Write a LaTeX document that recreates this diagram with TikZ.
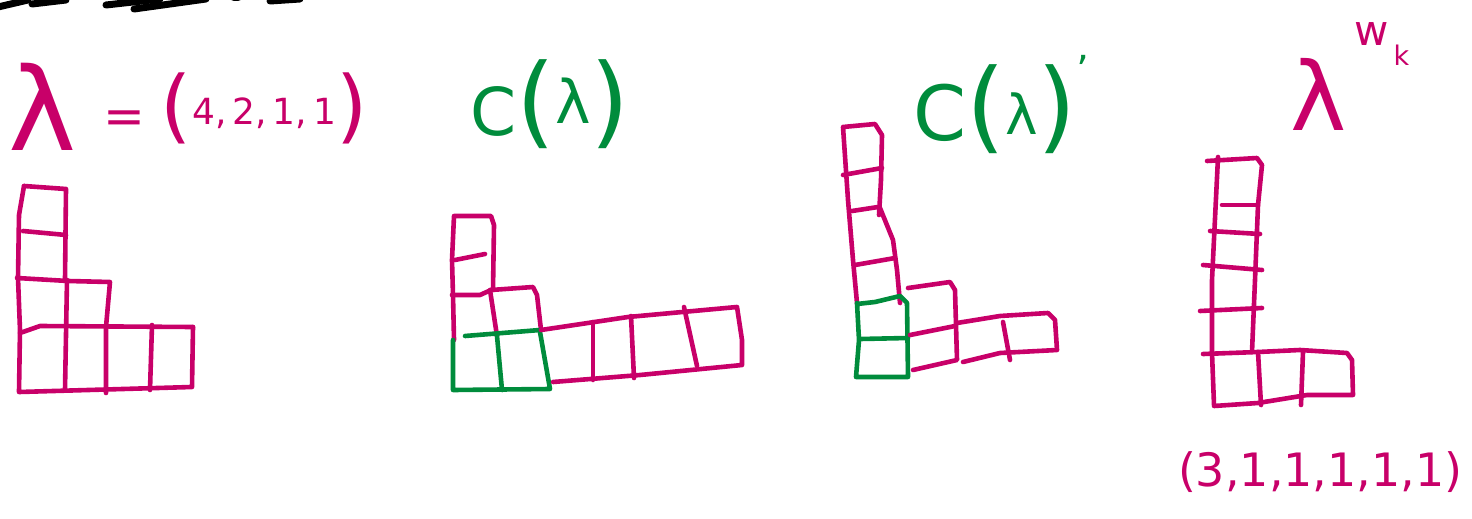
\documentclass[tikz,border=0pt]{standalone}
\usepackage{fontspec}
\setmainfont{DejaVu Sans}
\definecolor{mag}{RGB}{200,0,105}
\definecolor{grn}{RGB}{0,140,60}
\tikzset{
  pk/.style={draw=mag,line width=4.6pt,line cap=round,line join=round},
  gr/.style={draw=grn,line width=4.6pt,line cap=round,line join=round},
  ink/.style={draw=black,line width=7pt,line cap=round},
  lbl/.style={inner sep=0pt,outer sep=0pt,anchor=base west}
}
\newcommand{\fs}[1]{\fontsize{#1}{#1}\selectfont}
\begin{document}
\begin{tikzpicture}[x=1pt,y=-1pt]
\useasboundingbox (0,0) rectangle (1472,519);
% black scribbles at top edge
\draw[ink] (-2,7) -- (28,0);
\draw[ink] (32,4) -- (66,0);
\draw[ink] (106,5) -- (160,-1);
\draw[ink] (134,9) -- (206,-1);
\draw[ink] (234,-2) -- (238,-2);
\draw[ink] (270,1) -- (300,-1);

% ---------- labels ----------
\node[lbl,text=mag] (lab1) at (9,150)
  {\fs{115}λ\hspace{26pt}\raisebox{17pt}{\fs{50}=\hspace{16pt}{\fs{80}(}\raisebox{9pt}{\fs{36}4,\,2,\,1,\,1}{\fs{80})}}};
\node[lbl,text=grn] (lab2) at (470,135)
  {\fs{66}C{\fs{100}(}\raisebox{12pt}{\fs{60}λ}{\fs{100})}};
\node[lbl,text=grn] (lab3) at (913,140)
  {\fs{76}C{\fs{100}(}\raisebox{6pt}{\fs{55}λ}{\fs{100})}\raisebox{56pt}{\fs{40}'}};
\node[lbl,text=mag] (lab4) at (1290,130)
  {\fs{95}λ\hspace{8pt}\raisebox{85pt}{\fs{42}w}\hspace{5pt}\raisebox{65pt}{\fs{27}k}};
\node[lbl,text=mag] (lab5) at (1178,486)
  {\fs{46}(3,1,1,1,1,1)};

% ---------- diagram 1 : lambda = (4,2,1,1) ----------
\draw[pk] (24,186) -- (66,189) -- (65,280);
\draw[pk] (24,186) -- (19,215) -- (18,278) -- (20,330) -- (19,392) -- (192,387) -- (193,327);
\draw[pk] (23,231) -- (66,235);
\draw[pk] (17,278) -- (68,281) -- (110,282) -- (106,327) -- (106,393);
\draw[pk] (20,333) -- (40,326) -- (193,327);
\draw[pk] (67,280) -- (65,390);
\draw[pk] (152,325) -- (150,390);

% ---------- diagram 2 : C(lambda) ----------
\draw[pk] (454,340) -- (453,295) -- (452,260) -- (454,216) -- (491,216) -- (494,225) -- (493,290);
\draw[pk] (455,260) -- (485,254);
\draw[pk] (452,295) -- (480,295) -- (491,290) -- (533,287) -- (537,295) -- (541,330);
\draw[pk] (490,290) -- (497,336);
\draw[gr] (465,336) -- (540,330);
\draw[gr] (453,340) -- (453,390) -- (550,389) -- (540,332);
\draw[gr] (497,336) -- (502,390);
\draw[pk] (541,330) -- (628,317) -- (737,307) -- (742,340) -- (742,365) -- (640,375) -- (553,382);
\draw[pk] (593,322) -- (593,380);
\draw[pk] (631,316) -- (634,378);
\draw[pk] (684,307) -- (697,366);

% ---------- diagram 3 : C(lambda)' ----------
\draw[pk] (857,303) -- (853,260) -- (848,200) -- (843,127) -- (875,124) -- (882,135) -- (881,180) -- (879,215);
\draw[pk] (880,208) -- (893,240) -- (897,270) -- (900,303);
\draw[pk] (843,175) -- (882,168);
\draw[pk] (852,211) -- (878,207);
\draw[pk] (855,265) -- (895,258);
\draw[gr] (857,304) -- (875,302) -- (900,296) -- (907,303) -- (908,377) -- (856,377) -- (859,340) -- (857,303);
\draw[gr] (860,339) -- (908,338);
\draw[pk] (908,288) -- (950,282) -- (955,290) -- (957,360) -- (913,370);
\draw[pk] (910,335) -- (955,326);
\draw[pk] (957,323) -- (1000,316) -- (1048,313) -- (1055,320) -- (1057,350) -- (1000,353) -- (963,362);
\draw[pk] (1003,322) -- (1010,360);

% ---------- diagram 4 : lambda^{w_k} ----------
\draw[pk] (1218,157) -- (1212,280) -- (1212,353) -- (1214,405);
\draw[pk] (1207,161) -- (1257,158) -- (1262,165) -- (1258,205) -- (1255,280) -- (1252,352);
\draw[pk] (1222,205) -- (1258,205);
\draw[pk] (1210,231) -- (1260,234);
\draw[pk] (1203,265) -- (1262,270);
\draw[pk] (1200,311) -- (1262,308);
\draw[pk] (1203,354) -- (1258,352) -- (1300,350) -- (1347,353) -- (1352,360) -- (1353,395) -- (1307,395) -- (1258,403) -- (1214,406);
\draw[pk] (1258,352) -- (1261,405);
\draw[pk] (1303,352) -- (1301,405);
\end{tikzpicture}
\end{document}
